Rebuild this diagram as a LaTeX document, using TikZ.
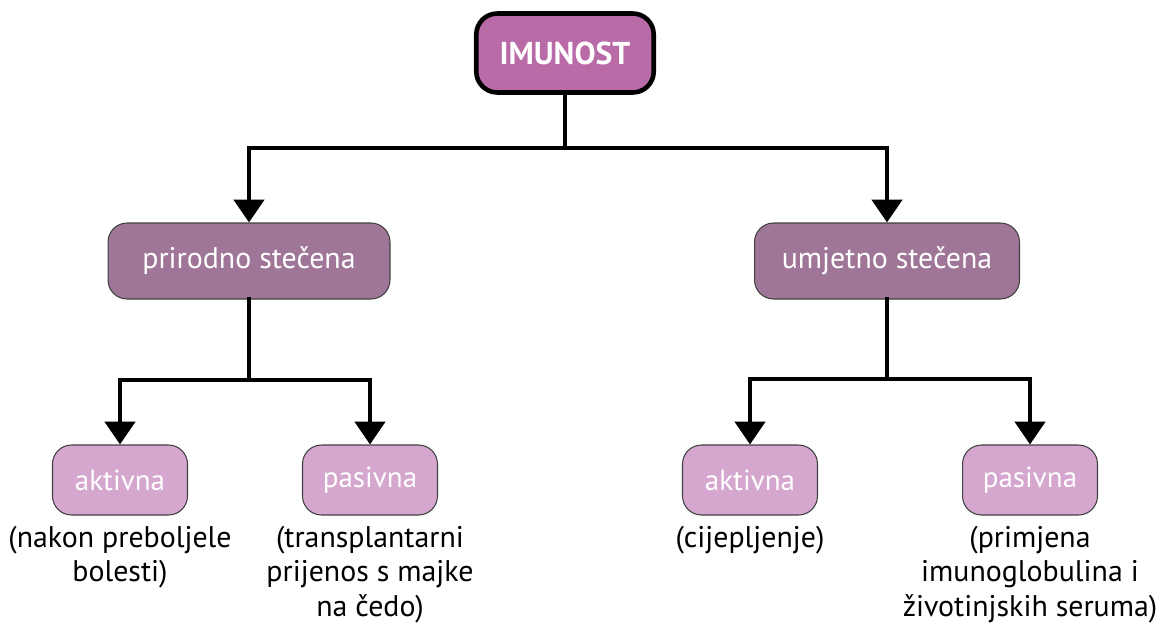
\documentclass[tikz,border=0pt]{standalone}
\usepackage{fontspec}
\setmainfont{PT Sans}
\usetikzlibrary{arrows.meta,positioning}

\definecolor{topviolet}{HTML}{B96BA7}
\definecolor{midviolet}{HTML}{A07698}
\definecolor{lightviolet}{HTML}{D5A7CF}

\tikzset{
  topbox/.style={draw=black,line width=2.6pt,fill=topviolet,rounded corners=0.42cm,
    minimum width=3.55cm,minimum height=1.58cm,text=white,
    font=\fontsize{18}{21}\selectfont\bfseries},
  midbox/.style={draw=black!75,line width=0.6pt,fill=midviolet,rounded corners=0.38cm,
    minimum height=1.52cm,text=white,font=\fontsize{17}{20}\selectfont},
  lowbox/.style={draw=black!75,line width=0.6pt,fill=lightviolet,rounded corners=0.38cm,
    minimum width=2.7cm,minimum height=1.4cm,text=white,font=\fontsize{16.5}{19}\selectfont},
  note/.style={align=center,inner sep=0pt,font=\fontsize{17}{19.8}\selectfont},
  link/.style={line width=2.8pt,line cap=rect},
  pointer/.style={link,-{Triangle[width=17pt,length=13pt]}}
}

\begin{document}
\begin{tikzpicture}[x=0.02cm,y=-0.02cm]
  \useasboundingbox (0,0) rectangle (1158,626);
  %
  % Boxes
  \node[topbox] (imun) at (565,53) {IMUNOST};
  \node[midbox,minimum width=5.64cm] (prir) at (249,261) {prirodno stečena};
  \node[midbox,minimum width=5.3cm] (umj) at (887,261) {umjetno stečena};
  \node[lowbox] (prakt) at (120,480) {aktivna};
  \node[lowbox] (prpas) at (370,480) {pasivna};
  \node[lowbox] (umakt) at (750,480) {aktivna};
  \node[lowbox] (umpas) at (1030,480) {pasivna};
  %
  % Notes
  \node[note,below=0.2cm of prakt] (prakttxt) {(nakon preboljele\\bolesti)};
  \node[note,below=0.2cm of prpas] (prpastxt) {(transplantarni\\prijenos s majke\\na čedo)};
  \node[note,below=0.2cm of umakt] (umakttxt) {(cijepljenje)};
  \node[note,below=0.2cm of umpas] (umpastxt) {(primjena\\imunoglobulina i\\životinjskih seruma)};
  %
  % Branch points
  \coordinate (split0) at (565,148);
  \coordinate (split1) at (249,380);
  \coordinate (split2) at (887,379);
  %
  % Arrows
  \draw[link] (imun.south) -- (split0);
  \draw[pointer] (split0) -| (prir.north);
  \draw[pointer] (split0) -| (umj.north);
  \draw[link] (prir.south) -- (split1);
  \draw[pointer] (split1) -| (prakt.north);
  \draw[pointer] (split1) -| (prpas.north);
  \draw[link] (umj.south) -- (split2);
  \draw[pointer] (split2) -| (umakt.north);
  \draw[pointer] (split2) -| (umpas.north);
  %
\end{tikzpicture}
\end{document}
